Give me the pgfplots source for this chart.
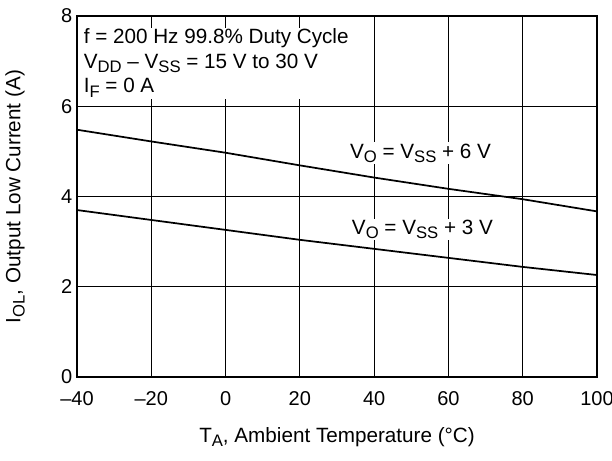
\documentclass[border=0pt]{standalone}
\usepackage{pgfplots}
\pgfplotsset{compat=1.18}
\usepackage{fontspec}
\setmainfont{Liberation Sans}
\newcommand\sub[1]{\raisebox{-0.4ex}{\fontsize{12.5}{13}\selectfont #1}}
\begin{document}
\begin{tikzpicture}[font=\fontsize{15.5}{17}\selectfont]
\begin{axis}[
  at={(0,0)}, anchor=south west,
  scale only axis,
  width=390pt, height=270.75pt,
  xmin=-40, xmax=100, ymin=0, ymax=8,
  xtick={-40,-20,0,20,40,60,80,100},
  xticklabels={–40,–20,0,20,40,60,80,100},
  ytick={0,2,4,6,8},
  /pgf/number format/assume math mode=true,
  grid=major,
  major grid style={black, line width=0.6pt},
  tick style={draw=none},
  axis line style={black, line width=0.8pt},
  xlabel={T\sub{A}, Ambient Temperature (°C)},
  ylabel={I\sub{OL}, Output Low Current (A)},
  xlabel style={at={(axis description cs:0.5,-0.166)}, anchor=center},
  ylabel style={at={(axis description cs:-0.119,0.5)}, anchor=center},
  xticklabel style={yshift=-7pt, font=\fontsize{15}{17}\selectfont},
  yticklabel style={xshift=0pt, font=\fontsize{15}{17}\selectfont},
  clip=false,
]
\addplot[black, line width=1.3pt] coordinates {
(-40,5.48) (-20,5.22) (0,4.97) (20,4.69) (40,4.42) (60,4.17) (80,3.94) (100,3.67)};
\addplot[black, line width=1.3pt] coordinates {
(-40,3.70) (-20,3.48) (0,3.26) (20,3.04) (40,2.84) (60,2.64) (80,2.44) (100,2.26)};
\node[fill=white, inner sep=1pt] at (axis cs:52.5,4.96) {V\sub{O} = V\sub{SS} + 6 V};
\node[fill=white, inner sep=1pt] at (axis cs:53,3.27) {V\sub{O} = V\sub{SS} + 3 V};
\node[fill=white, anchor=north west, align=left, inner sep=1pt, font=\fontsize{15.5}{18.4}\selectfont] at (axis cs:-38.6,7.75)
 {f = 200 Hz 99.8\% Duty Cycle\\ V\sub{DD} – V\sub{SS} = 15 V to 30 V\\ I\sub{F} = 0 A};
\end{axis}
\pgfresetboundingbox
\path[use as bounding box] (-57.75pt,-63pt) rectangle (401.25pt,282.75pt);
\end{tikzpicture}
\end{document}
